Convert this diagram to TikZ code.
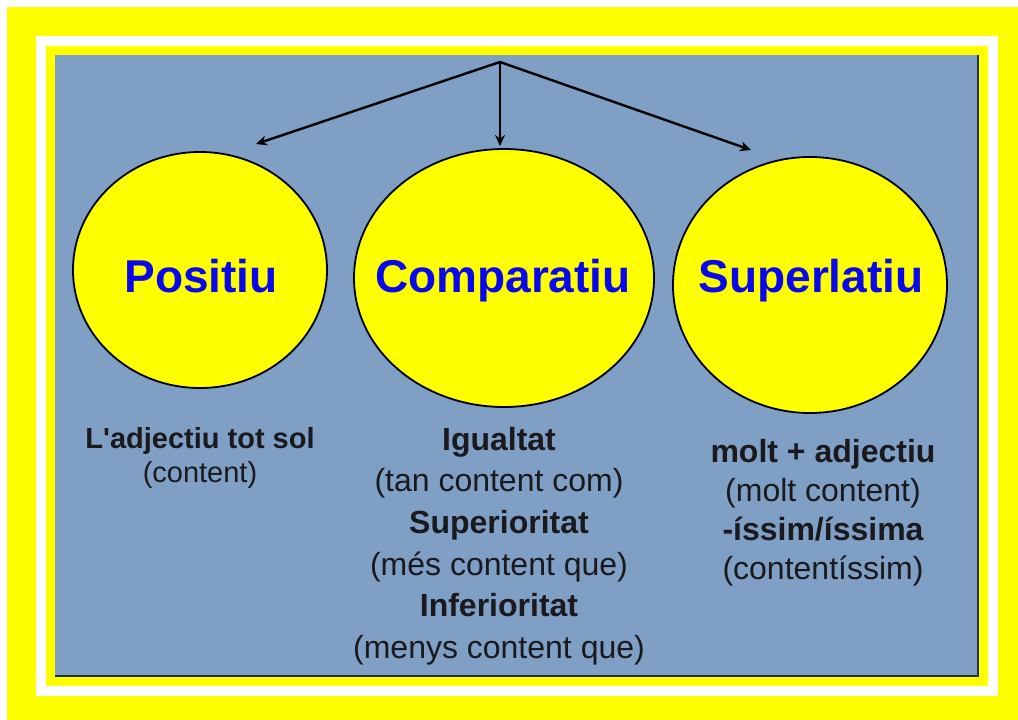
\documentclass[tikz,border=0pt]{standalone}
\usepackage{fontspec}
\newfontfamily\arialfont{Liberation Sans}
\usetikzlibrary{arrows.meta,positioning,shapes.geometric}
\definecolor{frameyellow}{RGB}{255,255,0}
\definecolor{panelblue}{RGB}{127,159,196}
\definecolor{titleblue}{RGB}{8,8,235}
\definecolor{inktext}{RGB}{25,25,30}
\tikzset{
        % Yellow degree circles
        degree/.style={ellipse, draw=black, line width=1.8pt, fill=frameyellow, inner sep=0pt},
        % Titles inside the circles
        degree_title/.style={anchor=base, inner sep=0pt, text=titleblue, font=\arialfont\fontsize{46}{50}\selectfont\bfseries},
        % Examples under the circles
        example/.style={align=center, inner sep=0pt, text=inktext},
        % Arrows from the top
        branch/.style={draw=black, line width=2.4pt, -{Stealth[length=11pt,width=10pt]}}
}
\begin{document}
\begin{tikzpicture}[x=1pt, y=-1pt]
    \useasboundingbox (0,0) rectangle (1018,720);
    % frames
    \fill[white] (0,0) rectangle (1018,720);
    \fill[frameyellow] (7,7) rectangle (1018,720);
    \fill[white] (36,36) rectangle (998,696);
    \fill[frameyellow] (46,46) rectangle (988,686);
    \fill[panelblue] (55,55) rectangle (979,677);
    \draw[black!70!panelblue, line width=2pt] (55,676) -- (978,676) -- (978,55);

    % circles
    \node[degree, minimum width=254pt, minimum height=236pt] (pos) at (200,270) {};
    \node[degree, minimum width=300pt, minimum height=258pt] (comp) at (504,278) {};
    \node[degree, minimum width=274pt, minimum height=256pt] (sup) at (810,285) {};
    \node[degree_title] (pos_title) at (201,292) {Positiu};
    \node[degree_title] (comp_title) at (503,292) {Comparatiu};
    \node[degree_title] (sup_title) at (811,292) {Superlatiu};

    % arrows
    \coordinate (top) at (500,62);
    \coordinate (pos_tip) at (256,144);
    \coordinate (comp_tip) at (500,146);
    \coordinate (sup_tip) at (751,150);
    \draw[branch] (top) -- (pos_tip);
    \draw[branch] (top) -- (comp_tip);
    \draw[branch] (top) -- (sup_tip);

    % examples
    \node[example, font=\arialfont\fontsize{29}{34}\selectfont] (pos_text) at (200,458)
        {{\bfseries L'adjectiu tot sol}\\(content)};
    \node[example, font=\arialfont\fontsize{32}{41.6}\selectfont] (comp_text) at (499,546)
        {{\bfseries Igualtat}\\(tan content com)\\{\bfseries Superioritat}\\(més content que)\\{\bfseries Inferioritat}\\(menys content que)};
    \node[example, font=\arialfont\fontsize{32}{39}\selectfont] (sup_text) at (823,513)
        {{\bfseries molt + adjectiu}\\(molt content)\\{\bfseries -íssim/íssima}\\(contentíssim)};
\end{tikzpicture}
\end{document}
